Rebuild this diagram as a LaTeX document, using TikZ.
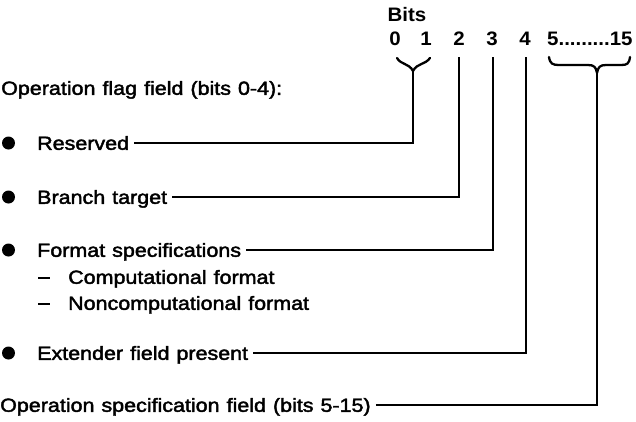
\documentclass[tikz,border=0pt]{standalone}
\usepackage{fontspec}
\setmainfont{Liberation Sans}
\newfontfamily\medfont[FakeBold=2.2,FakeStretch=1.13]{Liberation Sans}
\newfontfamily\hdrfont[FakeStretch=1.05]{Liberation Sans Bold}
\newcommand\lblfont{\fontsize{19}{22}\medfont\spaceskip=7pt\relax}
\begin{document}
\begin{tikzpicture}[x=1pt,y=-1pt,
  lbl/.style={anchor=west,inner sep=0pt,font=\lblfont,text height=13.6pt,text depth=0pt},
  hdr/.style={inner sep=0pt,font=\fontsize{19.5}{22}\hdrfont,text height=13.5pt,text depth=0pt},
  conn/.style={line width=1.9pt,line cap=butt,line join=miter},
  brc/.style={line width=2.3pt,line cap=round,line join=round},
  dot/.style={circle,fill=black,inner sep=0pt,minimum size=13pt},
  dashbar/.style={fill=black,inner sep=0pt,minimum width=12pt,minimum height=1.8pt}]
\useasboundingbox (0,0) rectangle (636,421);
% header
\node[hdr] (bits) at (407,15) {Bits};
\node[hdr] (d0) at (395,39) {0};
\node[hdr] (d1) at (426,39) {1};
\node[hdr] (d2) at (459,39) {2};
\node[hdr] (d3) at (492,39) {3};
\node[hdr] (d4) at (525,39) {4};
\node[hdr,anchor=west] (d5) at (547,39) {5.........15};
% braces
\coordinate (tA) at (413,71);
\coordinate (tB) at (597,73);
\draw[brc] (397,58) .. controls (401,65) and (409,63) .. (tA) .. controls (417,63) and (425,65) .. (430,58);
\draw[brc] (549,57) .. controls (550,64) and (553,65) .. (559,65) -- (588,65) .. controls (594,65) and (596,67) .. (tB) .. controls (598,67) and (600,65) .. (606,65) -- (621,65) .. controls (627,65) and (629,64) .. (630,57);
\coordinate (b2) at (459,57);
\coordinate (b3) at (493,57);
\coordinate (b4) at (526,57);
% labels
\node[lbl] (flag) at (1,88) {Operation flag field (bits 0-4):};
\node[dot] (u1) at (8.5,143) {};
\node[lbl] (res) at (37,143) {Reserved};
\node[dot] (u2) at (8.5,197) {};
\node[lbl] (bra) at (37,197) {Branch target};
\node[dot] (u3) at (8.5,250) {};
\node[lbl] (fmt) at (37,250) {Format specifications};
\node[dashbar] (c1) at (44,278) {};
\node[lbl] (comp) at (68,277) {Computational format};
\node[dashbar] (c2) at (44,304) {};
\node[lbl] (ncomp) at (68,303) {Noncomputational format};
\node[dot] (u4) at (8.5,353) {};
\node[lbl] (ext) at (37,353) {Extender field present};
\node[lbl] (spec) at (0,405) {Operation specification field (bits 5-15)};
% connectors
\draw[conn] ([xshift=5pt]res.east) -- (res.east -| tA) -- (tA);
\draw[conn] ([xshift=5pt]bra.east) -- (bra.east -| b2) -- (b2);
\draw[conn] ([xshift=5pt]fmt.east) -- (fmt.east -| b3) -- (b3);
\draw[conn] ([xshift=5pt]ext.east) -- (ext.east -| b4) -- (b4);
\draw[conn] ([xshift=5pt]spec.east) -- (spec.east -| tB) -- (tB);
\end{tikzpicture}
\end{document}
